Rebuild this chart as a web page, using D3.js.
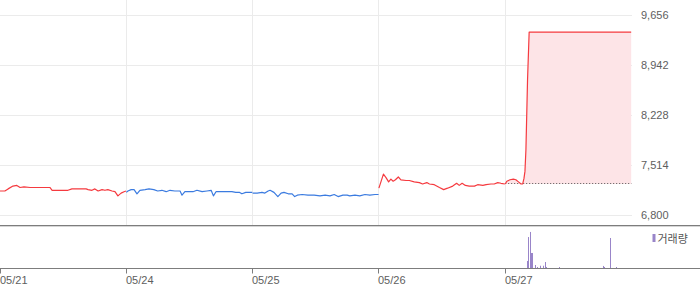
<!DOCTYPE html>
<html>
<head>
<meta charset="utf-8">
<script src="https://cdn.jsdelivr.net/npm/d3@7"></script>
<style>
  body { margin: 0; background: #fff; }
  svg { display: block; font-family: "Liberation Sans", Arial, sans-serif; }
  .grid line { stroke: #ebebeb; stroke-width: 1; shape-rendering: crispEdges; }
  .axis-text { font-size: 11px; fill: #5e5e5e; }
</style>
</head>
<body>
<div id="graph"></div>
<script>
// trading days shown (5 sessions, 390 minutes each)
var days = ["05/21", "05/24", "05/25", "05/26", "05/27"];
var dayTrend = ["up", "down", "down", "up", "up"];
var yTicks = [6800, 7514, 8228, 8942, 9656];
var prevClose = 7250; // 05/26 close, base for the 05/27 area

// [minute of session, price]
var day0521 = [[0,7150],[15,7150],[25,7180],[40,7220],[52,7230],[62,7200],[74,7210],[93,7200],[154,7200],[161,7160],[210,7160],[222,7180],[266,7180],[272,7170],[284,7160],[293,7180],[303,7150],[315,7170],[324,7160],[333,7170],[346,7150],[355,7140],[364,7080],[374,7120],[383,7140],[389,7150]];
var day0524 = [[0,7130],[5,7150],[15,7170],[24,7170],[33,7110],[42,7160],[58,7170],[70,7180],[85,7170],[97,7150],[110,7160],[123,7140],[135,7160],[150,7150],[166,7150],[172,7090],[181,7140],[194,7140],[206,7140],[218,7160],[234,7140],[249,7150],[262,7160],[269,7080],[277,7140],[289,7140],[307,7140],[326,7140],[338,7130],[350,7130],[357,7110],[369,7130],[389,7130]];
var day0525 = [[0,7120],[14,7120],[29,7130],[38,7120],[48,7150],[54,7160],[66,7130],[78,7070],[88,7120],[97,7130],[110,7110],[122,7110],[130,7070],[138,7090],[153,7100],[171,7090],[190,7090],[208,7080],[224,7090],[239,7080],[252,7100],[264,7070],[279,7090],[292,7090],[300,7080],[316,7090],[331,7080],[347,7100],[362,7090],[378,7100],[389,7100]];
var day0526 = [[0,7190],[14,7390],[22,7340],[30,7280],[37,7320],[44,7290],[51,7310],[60,7350],[68,7310],[84,7300],[94,7300],[109,7280],[125,7270],[135,7250],[148,7270],[156,7250],[171,7240],[187,7200],[200,7170],[212,7190],[228,7220],[240,7260],[248,7230],[257,7260],[267,7230],[279,7220],[295,7220],[305,7240],[321,7230],[331,7240],[346,7250],[356,7250],[367,7270],[377,7260],[389,7250]];
var day0527 = [[0,7250],[5,7290],[15,7310],[25,7320],[33,7310],[41,7280],[49,7250],[54,7250],[58,7330],[61,7430],[64,7740],[69,8740],[74,9420],[389,9420]];

// volume: [day index, minute, shares]
var volumes = [[3,9,5000],[3,13,5000],[4,68,71000],[4,71,296000],[4,77,344000],[4,82,146000],[4,85,146000],[4,93,33000],[4,100,14000],[4,110,26000],[4,118,26000],[4,124,61000],[4,127,14000],[4,167,14000],[4,303,24000],[4,308,14000],[4,325,287000],[4,343,14000]];

var sessionLength = 390;
var width = 700, height = 289;
var plotRight = 632;
var priceTop = 15.5, priceBottom = 215.5, panelLine = 225.5;
var volTop = 226, volBottom = 268.5;

var upColor = "#f53a3f", downColor = "#3b7be0", volColor = "#9985c9";

var svg = d3.select("#graph")
  .append("svg")
  .attr("width", width)
  .attr("height", height);

var x = d3.scaleLinear().domain([0, days.length * sessionLength]).range([0, 631.5]);
var y = d3.scaleLinear().domain([yTicks[0], yTicks[yTicks.length - 1]]).range([priceBottom, priceTop]);
var vy = d3.scaleLinear().domain([0, 400000]).range([volBottom, volTop]);

var crisp = function (v) { return Math.floor(v) + 0.5; };

// horizontal gridlines
svg.append("g")
  .attr("class", "grid")
  .selectAll("line")
  .data(yTicks)
  .enter()
  .append("line")
  .attr("x1", 0)
  .attr("x2", plotRight)
  .attr("y1", function (d) { return crisp(y(d)); })
  .attr("y2", function (d) { return crisp(y(d)); });

// vertical gridlines at session starts
svg.append("g")
  .attr("class", "grid")
  .selectAll("line")
  .data(d3.range(1, days.length))
  .enter()
  .append("line")
  .attr("x1", function (d) { return crisp(x(d * sessionLength)); })
  .attr("x2", function (d) { return crisp(x(d * sessionLength)); })
  .attr("y1", 0)
  .attr("y2", panelLine);

// area above previous close on the last day
var lastDay = days.length - 1;
var area = d3.area()
  .x(function (d) { return x(lastDay * sessionLength + d[0]); })
  .y0(y(prevClose))
  .y1(function (d) { return y(Math.max(d[1], prevClose)); });

svg.append("path")
  .datum(day0527)
  .attr("fill", "#fde4e7")
  .attr("d", area);

svg.append("line")
  .attr("x1", x(lastDay * sessionLength))
  .attr("x2", x(days.length * sessionLength))
  .attr("y1", crisp(y(prevClose)))
  .attr("y2", crisp(y(prevClose)))
  .attr("stroke", "#555")
  .attr("stroke-dasharray", "1,2");

// price lines, one per session
var sessions = [day0521, day0524, day0525, day0526, day0527];
var line = d3.line()
  .x(function (d) { return x(d.day * sessionLength + d.p[0]); })
  .y(function (d) { return y(d.p[1]); });

sessions.forEach(function (s, i) {
  svg.append("path")
    .datum(s.map(function (p) { return {day: i, p: p}; }))
    .attr("fill", "none")
    .attr("stroke", dayTrend[i] === "up" ? upColor : downColor)
    .attr("stroke-width", 1.2)
    .attr("stroke-linejoin", "round")
    .attr("d", line);
});

// right price labels
svg.append("g")
  .selectAll("text")
  .data(yTicks)
  .enter()
  .append("text")
  .attr("class", "axis-text")
  .attr("x", 641)
  .attr("y", function (d) { return y(d); })
  .attr("dy", "0.35em")
  .text(d3.format(","));

// panel separator
svg.append("line")
  .attr("x1", 0).attr("x2", width)
  .attr("y1", panelLine).attr("y2", panelLine)
  .attr("stroke", "#7d7d7d");
svg.append("line")
  .attr("x1", 0).attr("x2", width)
  .attr("y1", panelLine + 1).attr("y2", panelLine + 1)
  .attr("stroke", "#d6d6d6");

// volume bars
svg.append("g")
  .selectAll("rect")
  .data(volumes)
  .enter()
  .append("rect")
  .attr("x", function (d) { return Math.floor(x(d[0] * sessionLength + d[1])); })
  .attr("width", 1)
  .attr("y", function (d) { return vy(d[2]); })
  .attr("height", function (d) { return volBottom - vy(d[2]); })
  .attr("fill", function (d) { return d[0] === lastDay ? volColor : "#c8c8c8"; });

// legend
svg.append("rect")
  .attr("x", 652.5).attr("y", 234)
  .attr("width", 3).attr("height", 8)
  .attr("fill", volColor);
svg.append("text")
  .attr("x", 657.5).attr("y", 243)
  .attr("font-family", "'Noto Sans CJK KR', sans-serif")
  .attr("font-size", "11px")
  .attr("fill", "#555")
  .text("거래량");

// bottom date axis
var xAxis = d3.axisBottom(x)
  .tickValues(d3.range(0, days.length).map(function (d) { return d * sessionLength; }))
  .tickFormat(function (d) { return days[d / sessionLength]; })
  .tickSize(5)
  .tickSizeOuter(0);

var axisG = svg.append("g")
  .attr("transform", "translate(0," + volBottom + ")")
  .call(xAxis);

axisG.select(".domain").remove();
axisG.insert("line", ":first-child")
  .attr("x1", 0).attr("x2", width)
  .attr("stroke", "#7d7d7d");
axisG.selectAll(".tick").attr("transform", function (d) {
  return "translate(" + crisp(x(d)) + ",0)";
});
axisG.selectAll(".tick line").attr("stroke", "#7d7d7d");
axisG.selectAll(".tick text")
  .attr("class", "axis-text")
  .attr("text-anchor", "start")
  .attr("x", -0.5)
  .attr("y", 8)
  .attr("dy", "0.71em");
</script>
</body>
</html>
